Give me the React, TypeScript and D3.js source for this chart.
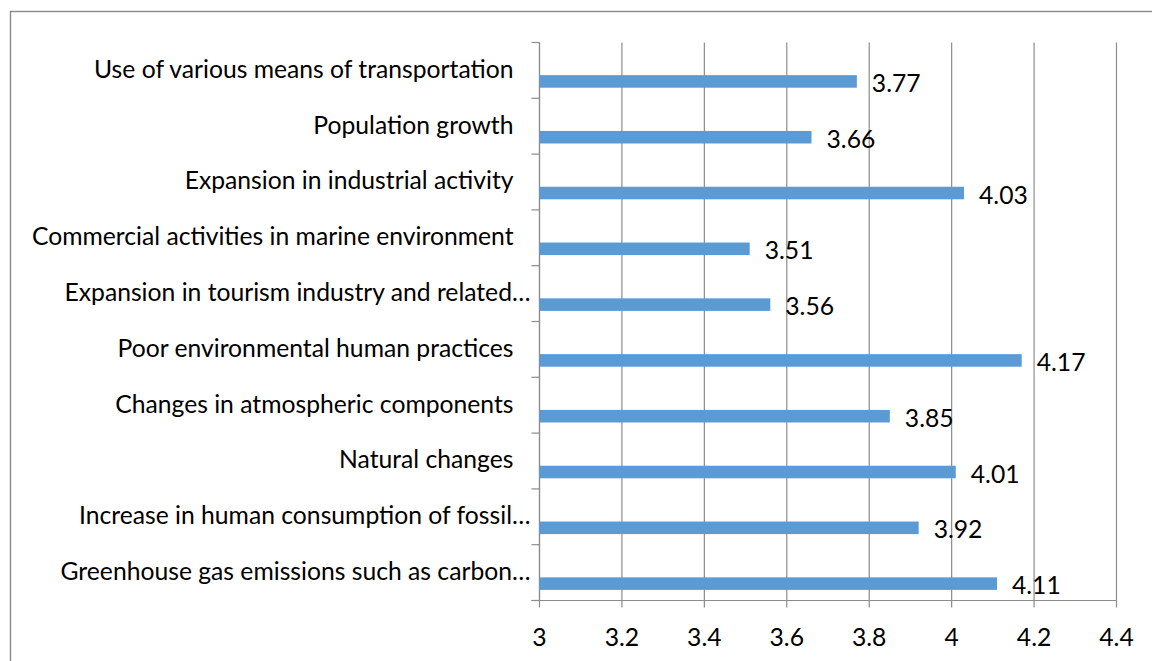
import React from "react";
import * as d3 from "d3";

const categories: string[] = [
  "Use of various means of transportation",
  "Population growth",
  "Expansion in industrial activity",
  "Commercial activities in marine environment",
  "Expansion in tourism industry and related…",
  "Poor environmental human practices",
  "Changes in atmospheric components",
  "Natural changes",
  "Increase in human consumption of fossil…",
  "Greenhouse gas emissions such as carbon…",
];

const values: number[] = [3.77, 3.66, 4.03, 3.51, 3.56, 4.17, 3.85, 4.01, 3.92, 4.11];

const xTicks: number[] = [3, 3.2, 3.4, 3.6, 3.8, 4, 4.2, 4.4];

const W = 1152;
const H = 661;
const plot = { left: 539.5, right: 1116.5, top: 42.5, bottom: 600.5 };
const FONT = "Lato, 'Open Sans', sans-serif";
const FS = 24.7;
const GRID = "#8c8c8c";
const BAR = "#5b9bd5";

export default function App() {
  const x = d3.scaleLinear().domain([3, 4.4]).range([plot.left, plot.right]);
  const y = d3
    .scaleBand<string>()
    .domain(categories)
    .range([plot.top, plot.bottom])
    .paddingInner(0)
    .paddingOuter(0);
  const bw = y.bandwidth();
  const barOffset = bw * 0.585;
  const barH = bw * 0.225;

  const bandEdges = d3.range(categories.length + 1).map((i) => plot.top + i * bw);

  return (
    <svg
      width={W}
      height={H}
      style={{ position: "absolute", left: 0, top: 0, background: "#fff" }}
      fontFamily={FONT}
    >
      <rect x={0} y={0} width={W} height={H} fill="#fff" />
      {/* chart area border */}
      <rect x={10.5} y={11.5} width={W + 20} height={H + 20} fill="none" stroke="#8a8a8a" strokeWidth={1.4} />

      {/* vertical gridlines */}
      {xTicks.map((t) => (
        <line key={"g" + t} x1={x(t)} x2={x(t)} y1={plot.top} y2={plot.bottom} stroke={GRID} strokeWidth={1.2} />
      ))}

      {/* bottom axis line and ticks */}
      <line x1={plot.left - 8} x2={plot.right} y1={plot.bottom} y2={plot.bottom} stroke={GRID} strokeWidth={1.2} />
      {xTicks.map((t) => (
        <line key={"t" + t} x1={x(t)} x2={x(t)} y1={plot.bottom} y2={plot.bottom + 7} stroke={GRID} strokeWidth={1.2} />
      ))}
      {xTicks.map((t) => (
        <text
          key={"l" + t}
          x={x(t)}
          y={636}
          textAnchor="middle"
          dominantBaseline="central"
          fontSize={FS}
          fill="#000"
        >
          {d3.format("")(t)}
        </text>
      ))}

      {/* left axis line and band ticks */}
      <line x1={plot.left} x2={plot.left} y1={plot.top} y2={plot.bottom} stroke={GRID} strokeWidth={1.2} />
      {bandEdges.map((e, i) => (
        <line key={"bt" + i} x1={plot.left - 8} x2={plot.left} y1={e} y2={e} stroke={GRID} strokeWidth={1.2} />
      ))}

      {/* category labels */}
      {categories.map((c) => (
        <text
          key={"c" + c}
          x={c.endsWith("…") ? plot.left - 9 : plot.left - 26}
          y={(y(c) as number) + bw / 2}
          dy="0.3em"
          textAnchor="end"
          fontSize={FS}
          fill="#000"
        >
          {c}
        </text>
      ))}

      {/* bars */}
      {categories.map((c, i) => (
        <rect
          key={"b" + c}
          x={x(3)}
          y={(y(c) as number) + barOffset}
          width={x(values[i]) - x(3)}
          height={barH}
          fill={BAR}
        />
      ))}

      {/* value labels */}
      {categories.map((c, i) => (
        <text
          key={"v" + c}
          x={x(values[i]) + 15}
          y={(y(c) as number) + barOffset + barH / 2 + 2}
          dy="0.35em"
          textAnchor="start"
          fontSize={FS}
          fill="#000"
        >
          {values[i].toFixed(2)}
        </text>
      ))}
    </svg>
  );
}
